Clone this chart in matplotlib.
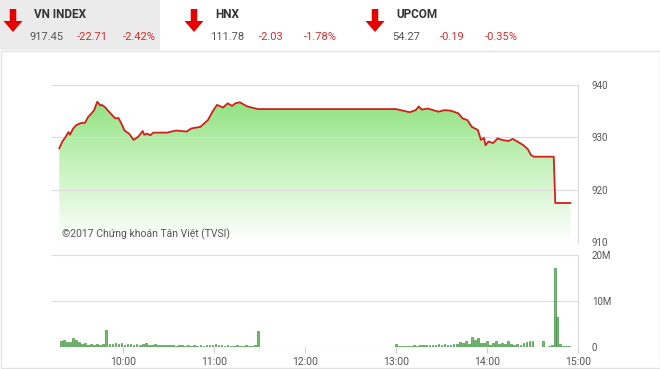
import numpy as np
import matplotlib
matplotlib.use("Agg")
import matplotlib.pyplot as plt
from matplotlib.colors import LinearSegmentedColormap
from matplotlib.patches import FancyArrow, Rectangle

plt.rcParams["font.family"] = ["Roboto", "DejaVu Sans"]

# header quotes
idx_names = ["VN INDEX", "HNX", "UPCOM"]
idx_values = ["917.45", "111.78", "54.27"]
idx_change = ["-22.71", "-2.03", "-0.19"]
idx_pct = ["-2.42%", "-1.78%", "-0.35%"]

# intraday price (time, value)
price_time = ["09:18", "09:20", "09:22", "09:24", "09:25", "09:27", "09:29", "09:32", "09:35",
              "09:37", "09:39", "09:41", "09:43", "09:45", "09:46", "09:48", "09:52", "09:55",
              "09:57", "09:59", "10:01", "10:04", "10:07", "10:10", "10:13", "10:14", "10:16",
              "10:18", "10:20", "10:22", "10:29", "10:35", "10:42", "10:45", "10:51", "10:56",
              "10:59", "11:02", "11:06", "11:09", "11:12", "11:14", "11:17", "11:22", "11:29",
              "13:00", "13:09", "13:13", "13:15", "13:17", "13:21", "13:28", "13:32", "13:36",
              "13:41", "13:44", "13:47", "13:50", "13:54", "13:56", "13:58", "13:59", "14:01",
              "14:04", "14:07", "14:10", "14:14", "14:17", "14:20", "14:24", "14:27", "14:29",
              "14:31", "14:44", "14:45", "14:55"]
price_val = [927.9, 929.2, 930.0, 931.0, 930.5, 931.6, 932.3, 932.7, 932.8,
             933.9, 934.5, 935.2, 936.8, 936.1, 936.2, 935.8, 934.5, 933.6,
             933.7, 932.6, 931.3, 930.7, 929.5, 930.1, 931.2, 930.5, 930.7,
             930.4, 930.9, 930.9, 930.9, 931.3, 931.1, 931.7, 932.0, 933.3,
             934.9, 936.2, 935.7, 936.5, 936.0, 936.5, 936.7, 935.9, 935.4,
             935.4, 934.8, 935.2, 935.9, 935.3, 935.5, 934.9, 935.2, 935.1,
             934.6, 933.6, 933.3, 932.0, 931.4, 929.5, 929.9, 928.5, 929.2,
             928.9, 929.8, 929.5, 929.3, 929.7, 929.2, 928.5, 927.7, 926.6,
             926.3, 926.3, 917.45, 917.45]

# volume (millions), morning bars every 2 min from 09:19
am_start = "09:19"
am_vol = [1.2, 1.5, 1.0, 1.1, 2.0, 1.6, 1.0, 0.7, 0.8, 0.5, 0.7, 0.5, 0.6, 0.5, 0.6, 3.8,
          0.6, 0.7, 0.8, 0.6, 0.8, 0.5, 0.7, 0.6, 0.5, 0.6, 0.5, 0.7, 0.8, 0.5, 0.4, 0.6,
          0.5, 0.4, 0.5, 0.4, 0.5, 0.4, 0.3, 0.4, 0.5, 0.3, 0.4, 0.3, 0.4, 0.3, 0.4, 0.3,
          0.4, 0.5, 0.4, 0.6, 0.5, 0.4, 0.3, 0.4, 0.3, 0.3, 0.4, 0.3, 0.3, 0.4, 0.3, 0.3,
          0.4, 3.5]
# afternoon bars every 2 min from 13:00
pm_start = "13:00"
pm_vol = [0.6, 0.2, 0.2, 0.3, 0.2, 0.3, 0.4, 0.3, 0.4, 0.5, 0.4, 0.5, 0.4, 0.5, 0.6, 0.5,
          0.6, 0.5, 0.5, 0.6, 0.7, 1.0, 0.8, 1.2, 0.7, 2.1, 1.5, 1.9, 0.8, 0.9, 1.2, 0.5,
          0.8, 1.4, 0.7, 0.9, 0.6, 1.3, 0.6, 0.5, 0.7, 0.4, 0.9, 1.1, 1.2, 1.2]
# late session and ATC
late_time = ["14:37", "14:41", "14:43", "14:45", "14:46", "14:48", "14:50", "14:52", "14:54"]
late_vol = [1.3, 0.2, 0.4, 17.2, 6.5, 0.6, 0.2, 0.2, 0.2]

xtick_labels = ["10:00", "11:00", "12:00", "13:00", "14:00", "15:00"]


def to_min(s):
    h, m = s.split(":")
    return int(h) * 60 + int(m)


pt = np.array([to_min(s) for s in price_time])
pv = np.array(price_val)
am_t = to_min(am_start) + 2 * np.arange(len(am_vol))
pm_t = to_min(pm_start) + 2 * np.arange(len(pm_vol))
lt = np.array([to_min(s) for s in late_time])
vt = np.concatenate([am_t, pm_t, lt])
vv = np.concatenate([am_vol, pm_vol, late_vol])
xt = [to_min(s) for s in xtick_labels]

W, H = 660, 369
fig = plt.figure(figsize=(W / 100, H / 100), dpi=100)

# background / header layer in pixel coordinates
bg = fig.add_axes([0, 0, 1, 1], zorder=-1)
bg.set_xlim(0, W)
bg.set_ylim(H, 0)
bg.axis("off")
bg.add_patch(Rectangle((0, 0), 160, 50, color="#ebebeb", lw=0))
bg.add_patch(Rectangle((0.5, 50.5), W - 1, H - 51.5, fill=False, ec="#e2e2e2", lw=1))

arrow_x = [13, 194, 375]
text_x = [34, 215, 396]
val_cx = [47, 227.5, 406]
chg_cx = [92, 271, 452.5]
pct_cx = [139.5, 320.5, 501.5]
for i in range(3):
    bg.add_patch(FancyArrow(arrow_x[i], 9, 0, 23, width=6.5, head_width=19, head_length=11,
                            length_includes_head=True, color="#e60000", lw=0))
    bg.text(text_x[i], 14, idx_names[i], fontsize=8.5, color="#333333", weight="bold",
            ha="left", va="center")
    bg.text(val_cx[i], 37, idx_values[i], fontsize=8, color="#555555", ha="center", va="center")
    bg.text(chg_cx[i], 37, idx_change[i], fontsize=8, color="#d32f2f", ha="center", va="center")
    bg.text(pct_cx[i], 37, idx_pct[i], fontsize=8, color="#d32f2f", ha="center", va="center")

left = 52 / W
width = (578 - 52) / W
ax = fig.add_axes([left, 1 - 242 / H, width, (242 - 85) / H])
axv = fig.add_axes([left, 1 - 347 / H, width, (347 - 255) / H])

xmin, xmax = to_min("15:00") - 526 / 91 * 60, to_min("15:00")

# price panel
grad = np.linspace(1, 0, 256).reshape(-1, 1)
cmap = LinearSegmentedColormap.from_list("g", ["#ffffff", "#c6f2bc", "#84de74"])
im = ax.imshow(grad, extent=[xmin, xmax, 910, 940], aspect="auto", cmap=cmap,
               origin="upper", zorder=1)
poly = ax.fill_between(pt, pv, 910, color="none", lw=0)
im.set_clip_path(poly.get_paths()[0], transform=ax.transData)
ax.plot(pt, pv, color="#d0201a", lw=1.3, zorder=3)
ax.set_xlim(xmin, xmax)
ax.set_ylim(910, 940)
ax.set_yticks([910, 920, 930, 940])
ax.yaxis.tick_right()
ax.tick_params(axis="y", length=0, pad=10, labelsize=7, labelcolor="#555555")
ax.set_xticks([])
ax.grid(axis="y", color="#dcdcdc", lw=0.8, zorder=0)
ax.set_facecolor("none")
for s in ["top", "left", "bottom"]:
    ax.spines[s].set_visible(False)
ax.spines["right"].set_color("#d9d9d9")
ax.text(0.019, 0.05, "©2017 Chứng khoán Tân Việt (TVSI)", transform=ax.transAxes,
        fontsize=7.5, color="#555555", ha="left", va="center", zorder=4)

# volume panel
axv.bar(vt, vv, width=1.1, color="#6fbf6a", edgecolor="#2e7d32", lw=0.4, zorder=3)
axv.set_xlim(xmin, xmax)
axv.set_ylim(0, 20)
axv.set_yticks([0, 10, 20])
axv.set_yticklabels(["0", "10M", "20M"])
axv.yaxis.tick_right()
axv.tick_params(axis="y", length=0, pad=10, labelsize=7, labelcolor="#555555")
axv.set_xticks(xt)
axv.set_xticklabels(xtick_labels)
axv.tick_params(axis="x", length=4, color="#cccccc", pad=3, labelsize=7.5, labelcolor="#555555")
axv.grid(axis="y", color="#dcdcdc", lw=0.8, zorder=0)
axv.set_facecolor("none")
for s in ["top", "left", "bottom"]:
    axv.spines[s].set_visible(False)
axv.spines["right"].set_color("#d9d9d9")

fig.savefig("out.png", dpi=100)
